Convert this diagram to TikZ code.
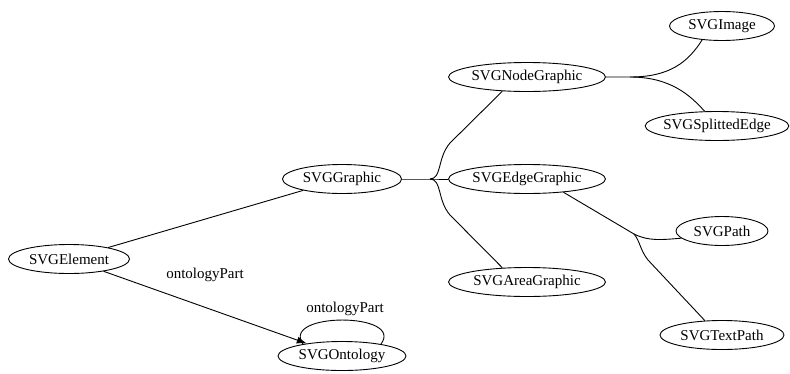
\documentclass[tikz,border=0pt]{standalone}
\usepackage{fontspec}
\setmainfont{Liberation Serif}
\usetikzlibrary{shapes.geometric,arrows.meta}
\tikzset{
  cls/.style={draw, ellipse, inner xsep=-3pt, inner ysep=0pt, minimum height=29pt, minimum width=#1},
  lnk/.style={line width=0.9pt},
}
\begin{document}
\begin{tikzpicture}[x=1pt, y=1pt, font=\fontsize{15}{17}\selectfont, line width=0.9pt]
    \useasboundingbox (0,0) rectangle (790,-373);
    % classes
    \node[cls=121pt] (elem) at (69,-259) {SVGElement};
    \node[cls=119pt] (graphic) at (342,-179) {SVGGraphic};
    \node[cls=128pt] (onto) at (342,-356) {SVGOntology};
    \node[cls=157pt] (nodeg) at (527,-77) {SVGNodeGraphic};
    \node[cls=157pt] (edgeg) at (527,-179) {SVGEdgeGraphic};
    \node[cls=157pt] (areag) at (527,-282) {SVGAreaGraphic};
    \node[cls=105pt] (image) at (722,-26) {SVGImage};
    \node[cls=142pt] (split) at (717,-126) {SVGSplittedEdge};
    \node[cls=92pt] (path) at (722,-231) {SVGPath};
    \node[cls=124pt] (textp) at (722,-335) {SVGTextPath};
    % branch points
    \coordinate (j1) at (430,-179);
    \coordinate (j2) at (630,-77);
    \coordinate (j3) at (634,-234);
    % subclass edges
    \draw[lnk] (elem) -- (graphic);
    \draw[lnk] (graphic.east) -- (j1) -- (edgeg.west);
    \draw[lnk] (j1) .. controls (442,-179) and (437,-158) .. (450,-143) -- (nodeg.210);
    \draw[lnk] (j1) .. controls (442,-179) and (437,-200) .. (450,-215) -- (areag.150);
    \draw[lnk] (nodeg.east) -- (j2) .. controls (670,-77) and (688,-62) .. (image.215);
    \draw[lnk] (j2) .. controls (670,-77) and (690,-95) .. (split.130);
    \draw[lnk] (edgeg.340) -- (j3) .. controls (648,-241) and (660,-240) .. (path.190);
    \draw[lnk] (j3) .. controls (640,-241) and (640,-250) .. (648,-260) -- (textp.140);
    % ontologyPart
    \draw[lnk, -{Latex[length=10pt,width=7pt]}] (elem) -- (onto);
    \node (lbl1) at (205,-275) {ontologyPart};
    \draw[lnk] (onto.163) .. controls (280,-312) and (405,-312) .. (onto.17);
    \node (lbl2) at (345,-309) {ontologyPart};
\end{tikzpicture}
\end{document}
